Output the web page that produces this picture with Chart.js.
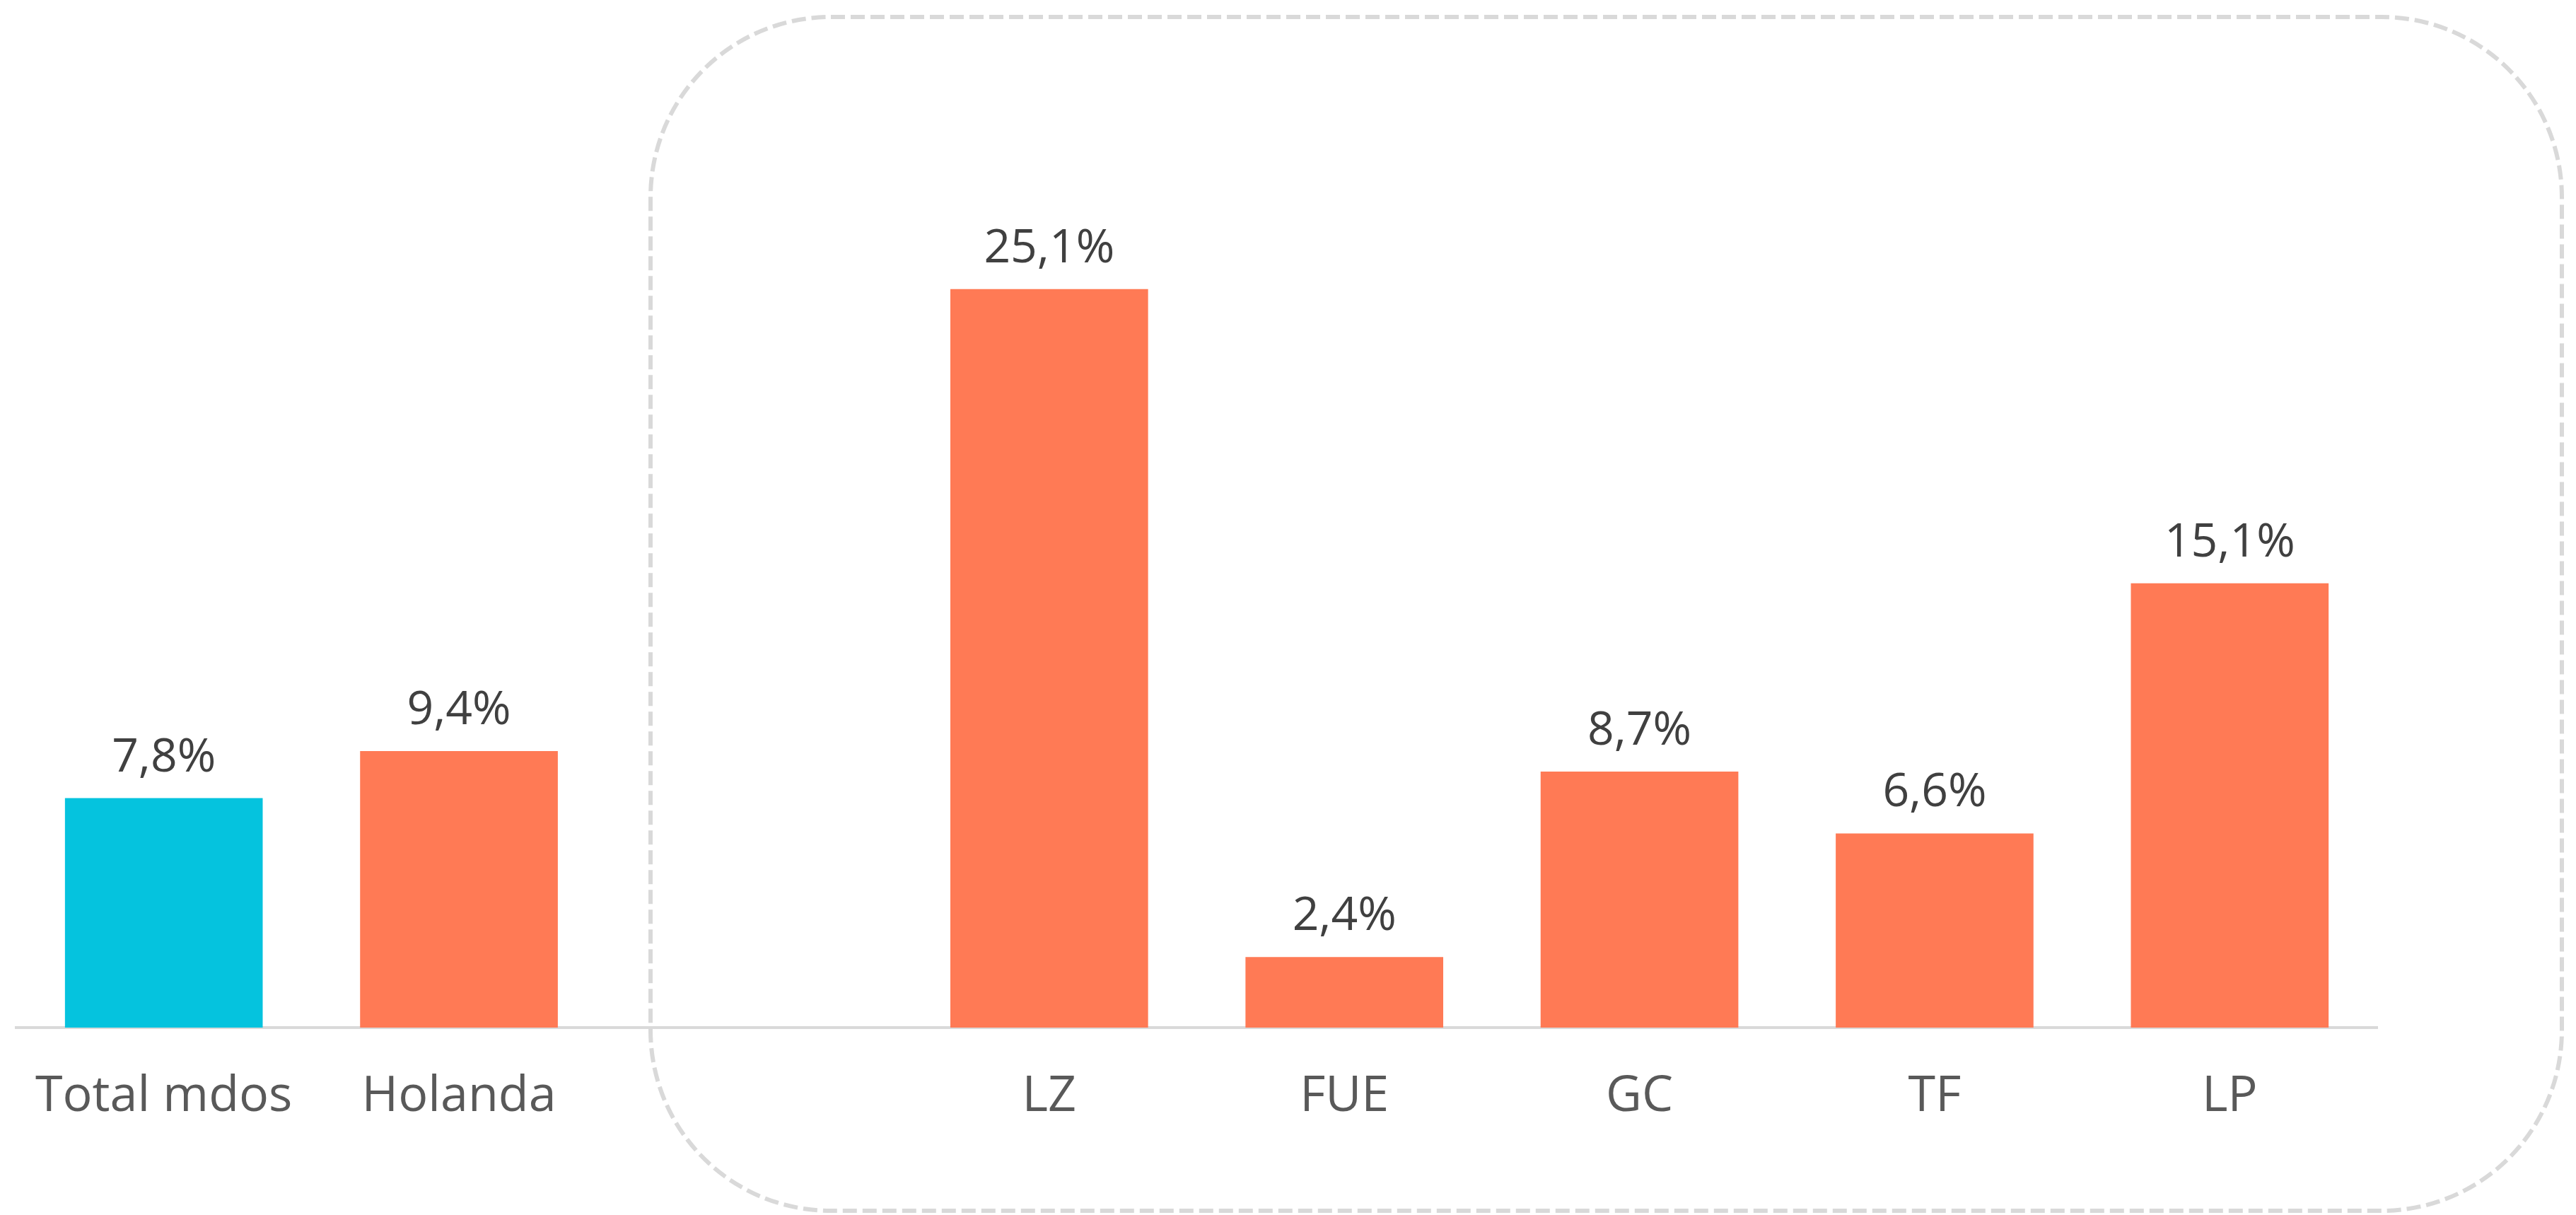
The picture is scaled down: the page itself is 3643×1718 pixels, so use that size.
<!DOCTYPE html>
<html>
<head>
<meta charset="utf-8">
<script src="https://cdn.jsdelivr.net/npm/chart.js@4"></script>
<style>
  body { margin: 0; background: #fff; }
  canvas { display: block; }
</style>
</head>
<body>
<canvas id="chart" width="3643" height="1718"></canvas>
<script>
const categories = ['Total mdos', 'Holanda', '', 'LZ', 'FUE', 'GC', 'TF', 'LP']
const values = [7.8, 9.4, null, 25.1, 2.4, 8.7, 6.6, 15.1]
const totalColor = '#05C3DE'
const marketColor = '#FF7A55'
const barColors = categories.map((c, i) => i === 0 ? totalColor : marketColor)

const fontFamily = '"Segoe UI", "Open Sans", sans-serif'

// etiquetas de valor encima de cada barra
const valueLabels = {
  id: 'valueLabels',
  afterDatasetsDraw(chart) {
    const ctx = chart.ctx
    const meta = chart.getDatasetMeta(0)
    ctx.save()
    ctx.font = '66px ' + fontFamily
    ctx.fillStyle = '#404040'
    ctx.textAlign = 'center'
    ctx.textBaseline = 'alphabetic'
    meta.data.forEach((bar, i) => {
      const v = values[i]
      if (v === null) return
      ctx.fillText(v.toFixed(1).replace('.', ',') + '%', bar.x, bar.y - 38)
    })
    ctx.restore()
  }
}

// recuadro discontinuo alrededor de las islas
const islandBox = {
  id: 'islandBox',
  beforeDraw(chart) {
    const ctx = chart.ctx
    const x = 920, y = 24, w = 3623 - 920, h = 1712 - 24, r = 255
    ctx.save()
    ctx.strokeStyle = '#D9D9D9'
    ctx.lineWidth = 6
    ctx.setLineDash([20, 8])
    ctx.beginPath()
    ctx.roundRect(x, y, w, h, r)
    ctx.stroke()
    ctx.restore()
  }
}

new Chart(document.getElementById('chart'), {
  type: 'bar',
  data: {
    labels: categories,
    datasets: [{
      data: values,
      backgroundColor: barColors,
      borderWidth: 0,
      barPercentage: 0.67,
      categoryPercentage: 1
    }]
  },
  options: {
    responsive: false,
    animation: false,
    layout: { padding: { top: 205, left: 23, right: 281, bottom: 0 } },
    plugins: {
      legend: { display: false },
      tooltip: { enabled: false }
    },
    scales: {
      x: {
        grid: { display: false, drawTicks: false },
        border: { display: true, color: '#D9D9D9', width: 4 },
        ticks: {
          color: '#595959',
          padding: 56,
          font: { size: 70, family: fontFamily }
        },
        afterFit(scale) {
          scale.height = 1718 - 1453
          scale.paddingLeft = 0
          scale.paddingRight = 0
        }
      },
      y: {
        display: false,
        min: 0,
        max: 30
      }
    }
  },
  plugins: [islandBox, valueLabels]
})
</script>
</body>
</html>
